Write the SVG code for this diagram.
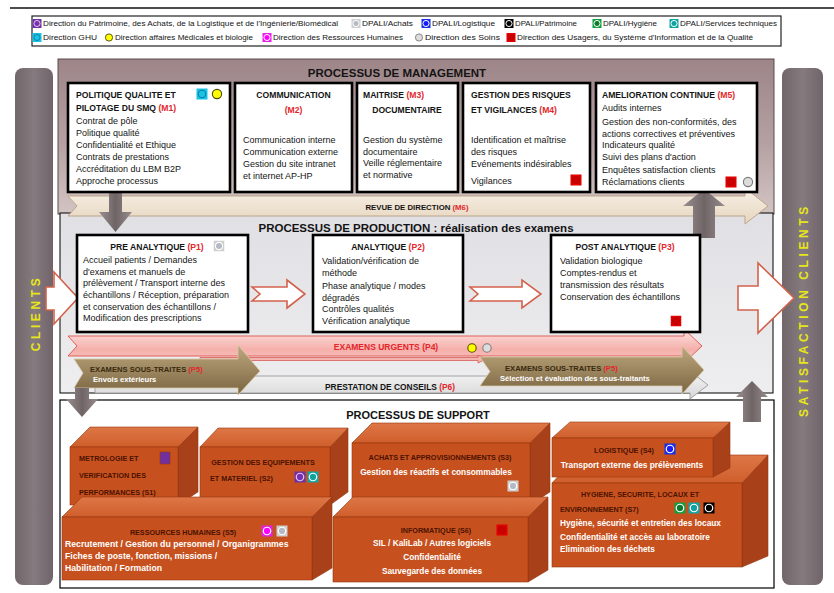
<svg xmlns="http://www.w3.org/2000/svg" width="834" height="593" viewBox="0 0 834 593">
<style>
text{font-family:'Liberation Sans',Arial,sans-serif;dominant-baseline:central;fill:#141414}
.lg{font-size:7.3px}
.tt{font-size:8.6px;font-weight:bold}
.tx{font-size:9px}
.sec{font-size:11.5px;font-weight:bold;text-anchor:middle}
.red{fill:#e3262a}
.mc{text-anchor:middle}
.box{fill:#fff;stroke:#000;stroke-width:2.6}
.side{font-size:12px;font-weight:bold;fill:#e6e619;letter-spacing:3.6px;text-anchor:middle}
.st{font-size:7.2px;font-weight:bold;fill:#4a1200}
.sw{font-size:8.3px;font-weight:bold;fill:#fff}
.lb{font-size:7.8px;font-weight:bold}
.front{fill:#c7511e}
.top{fill:url(#gTop)}
.right{fill:#a8411a}
.cube polygon,.cube rect{stroke:#96380f;stroke-width:0.6}
.hollow{fill:#fff;stroke:#d2624c;stroke-width:1.6}
.grey{fill:url(#gGrey)}
.bar{fill:url(#gBar)}
</style>
<defs>
<linearGradient id="gMan" x1="0" y1="0" x2="0" y2="1"><stop offset="0" stop-color="#9d8588"/><stop offset="0.55" stop-color="#b5a1a3"/><stop offset="1" stop-color="#d3c4c4"/></linearGradient>
<linearGradient id="gProd" x1="0" y1="0" x2="0" y2="1"><stop offset="0" stop-color="#e0e0e4"/><stop offset="1" stop-color="#eeeef0"/></linearGradient>
<linearGradient id="gBeige" x1="0" y1="0" x2="0" y2="1"><stop offset="0" stop-color="#f8f1e7"/><stop offset="1" stop-color="#e6d5be"/></linearGradient>
<linearGradient id="gPink" x1="0" y1="0" x2="0" y2="1"><stop offset="0" stop-color="#fde4e2"/><stop offset="0.6" stop-color="#f5b0ab"/><stop offset="1" stop-color="#f7c3bf"/></linearGradient>
<linearGradient id="gBrown" x1="0" y1="0" x2="0" y2="1"><stop offset="0" stop-color="#bea87e"/><stop offset="1" stop-color="#7a6542"/></linearGradient>
<linearGradient id="gGrey" x1="0" y1="0" x2="1" y2="0"><stop offset="0" stop-color="#9a8e90"/><stop offset="0.5" stop-color="#6f6466"/><stop offset="1" stop-color="#968b8d"/></linearGradient>
<linearGradient id="gTop" x1="0" y1="0" x2="0" y2="1"><stop offset="0" stop-color="#de7646"/><stop offset="1" stop-color="#cf5f2c"/></linearGradient>
<linearGradient id="gP6" x1="0" y1="0" x2="0" y2="1"><stop offset="0" stop-color="#f6f6f6"/><stop offset="1" stop-color="#d6d6d6"/></linearGradient>
<linearGradient id="gBar" x1="0" y1="0" x2="1" y2="0"><stop offset="0" stop-color="#72666a"/><stop offset="0.5" stop-color="#857a7e"/><stop offset="1" stop-color="#70646a"/></linearGradient>
<g id="iPurple"><rect x="-5" y="-5" width="10" height="10" fill="#7030a0"/><circle r="3.4" fill="#7a2fb0" stroke="#e0c8f0" stroke-width="1.1"/></g>
<g id="iCyan"><rect x="-5" y="-5" width="10" height="10" fill="#19c3e6"/><circle r="3.4" fill="#19c3e6" stroke="#0a7fa0" stroke-width="1"/></g>
<g id="iYellow"><circle r="4" fill="#ffff00" stroke="#4a4a00" stroke-width="1"/></g>
<g id="iMagenta"><rect x="-5" y="-5" width="10" height="10" fill="#e61ee6"/><circle r="3.4" fill="#ff00ff" stroke="#fff" stroke-width="1.1"/></g>
<g id="iAchats"><rect x="-5" y="-5" width="10" height="10" fill="#cfcfcf"/><circle r="3.4" fill="#b4b9c6" stroke="#fff" stroke-width="1.1"/></g>
<g id="iBlue"><rect x="-5" y="-5" width="10" height="10" fill="#1430e6"/><circle r="3.4" fill="#1a1aff" stroke="#fff" stroke-width="1.1"/></g>
<g id="iBlack"><rect x="-5" y="-5" width="10" height="10" fill="#000"/><circle r="3.4" fill="#000" stroke="#fff" stroke-width="1.1"/></g>
<g id="iGreen"><rect x="-5" y="-5" width="10" height="10" fill="#10a040"/><circle r="3.4" fill="#0a7a30" stroke="#fff" stroke-width="1.1"/></g>
<g id="iTeal"><rect x="-5" y="-5" width="10" height="10" fill="#10a4a4"/><circle r="3.4" fill="#10a0a0" stroke="#fff" stroke-width="1.1"/></g>
<g id="iSoins"><circle r="4" fill="#dcdcdc" stroke="#7a7a7a" stroke-width="1"/></g>
<g id="iRed"><rect x="-5" y="-5" width="10" height="10" fill="#e00000"/><circle r="3.4" fill="#cc0000" stroke="#b00000" stroke-width="0.6"/></g>
</defs>

<rect width="834" height="593" fill="#fff"/>
<line x1="10" y1="8" x2="834" y2="8" stroke="#111" stroke-width="1.5"/>

<g id="legend">
<rect x="32" y="16" width="749" height="30" fill="#fff" stroke="#222" stroke-width="1.2"/>
<use href="#iPurple" transform="translate(37,23.5) scale(0.9)"/><text class="lg" x="43" y="23.5" textLength="295" lengthAdjust="spacingAndGlyphs">Direction du Patrimoine, des Achats, de la Logistique et de l'Ingénierie/Biomédical</text>
<use href="#iAchats" transform="translate(356,23.5) scale(0.9)"/><text class="lg" x="362" y="23.5" textLength="51" lengthAdjust="spacingAndGlyphs">DPALI/Achats</text>
<use href="#iBlue" transform="translate(426,23.5) scale(0.9)"/><text class="lg" x="432" y="23.5" textLength="63" lengthAdjust="spacingAndGlyphs">DPALI/Logistique</text>
<use href="#iBlack" transform="translate(509,23.5) scale(0.9)"/><text class="lg" x="515" y="23.5" textLength="62" lengthAdjust="spacingAndGlyphs">DPALI/Patrimoine</text>
<use href="#iGreen" transform="translate(597,23.5) scale(0.9)"/><text class="lg" x="603" y="23.5" textLength="54" lengthAdjust="spacingAndGlyphs">DPALI/Hygiène</text>
<use href="#iTeal" transform="translate(674,23.5) scale(0.9)"/><text class="lg" x="680" y="23.5" textLength="97" lengthAdjust="spacingAndGlyphs">DPALI/Services techniques</text>
<use href="#iCyan" transform="translate(37,37.5) scale(0.9)"/><text class="lg" x="43" y="37.5" textLength="54" lengthAdjust="spacingAndGlyphs">Direction GHU</text>
<use href="#iYellow" transform="translate(109,37.5) scale(0.9)"/><text class="lg" x="115" y="37.5" textLength="138" lengthAdjust="spacingAndGlyphs">Direction affaires Médicales et biologie</text>
<use href="#iMagenta" transform="translate(267,37.5) scale(0.9)"/><text class="lg" x="273" y="37.5" textLength="130" lengthAdjust="spacingAndGlyphs">Direction des Ressources Humaines</text>
<use href="#iSoins" transform="translate(419,37.5) scale(0.9)"/><text class="lg" x="425" y="37.5" textLength="75" lengthAdjust="spacingAndGlyphs">Direction des Soins</text>
<use href="#iRed" transform="translate(511,37.5) scale(0.9)"/><text class="lg" x="517" y="37.5" textLength="236" lengthAdjust="spacingAndGlyphs">Direction des Usagers, du Système d'Information et de la Qualité</text>
</g>

<g id="clients">
<rect class="bar" x="15" y="68" width="38" height="517" rx="8"/>
<text class="side" transform="translate(36,313) rotate(-90)">CLIENTS</text>
</g>
<g id="satisfaction-clients">
<rect class="bar" x="782" y="68" width="41" height="517" rx="8"/>
<text class="side" transform="translate(804,310) rotate(-90)">SATISFACTION CLIENTS</text>
</g>

<g id="management">
<rect x="58" y="59" width="716" height="155" fill="url(#gMan)" stroke="#5a4a4c" stroke-width="1"/>
<text class="sec" x="397" y="73">PROCESSUS DE MANAGEMENT</text>
</g>
<g id="production">
<rect x="60" y="213" width="713" height="180" fill="url(#gProd)" stroke="#000" stroke-width="1"/>
<text class="sec" x="416" y="228">PROCESSUS DE PRODUCTION : réalisation des examens</text>
</g>
<g id="support">
<rect x="60" y="400" width="714" height="188" fill="#fff" stroke="#000" stroke-width="1.2"/>
<text class="sec" x="418" y="415" style="font-size:11px">PROCESSUS DE SUPPORT</text>
</g>

<g id="connectors">
<g id="m6-revue">
<path d="M68,196 L745,196 L745,188 L768,206 L745,224 L745,216 L68,216 L77,206 Z" fill="url(#gBeige)" stroke="#bda58b" stroke-width="1"/>
<text class="lb mc" x="417" y="207">REVUE DE DIRECTION <tspan class="red">(M6)</tspan></text>
</g>
<path class="hollow" d="M46,287 L54,287 L54,272 L78,298 L54,324 L54,310 L46,310 Z"/>
<path class="hollow" d="M252,287 L287,287 L287,280 L305,294 L287,308 L287,301 L252,301 L260,294 Z"/>
<path class="hollow" d="M470,287 L522,287 L522,280 L541,294 L522,308 L522,301 L470,301 L478,294 Z"/>
<path class="hollow" d="M738,286 L758,286 L758,263 L794,298 L758,333 L758,310 L738,310 Z"/>
<g id="p6-conseils">
<path d="M95,376 L690,376 L690,371 L708,385 L690,399 L690,393 L95,393 Z" fill="url(#gP6)" stroke="#9a9a9a" stroke-width="0.9"/>
<text class="lb mc" x="390" y="387" style="font-size:8.4px">PRESTATION DE CONSEILS  <tspan class="red">(P6)</tspan></text>
</g>
<g id="p4-urgents">
<path d="M68,336 L684,336 L684,329 L702,346 L684,363 L684,356 L68,356 L77,346 Z" fill="url(#gPink)" stroke="#e0605a" stroke-width="1"/>
<text class="lb mc red" x="386" y="347" style="font-size:8.5px">EXAMENS URGENTS   (P4)</text>
<use href="#iYellow" transform="translate(472,348) scale(1.05)"/>
<use href="#iSoins" transform="translate(487,348) scale(1.05)"/>
</g>
<path d="M200,357.5 L478,357.5 L478,355 L486,359 L478,363 L478,360.5 L200,360.5 Z" fill="#f3b4b0" stroke="#d85c55" stroke-width="0.8"/>
<g id="p5-left">
<path d="M74,359 L238,359 L238,345 L260,371 L238,395 L238,388 L74,388 L83,373 Z" fill="url(#gBrown)" stroke="#d9c9a6" stroke-width="0.8"/>
<text class="lb" x="90" y="369" style="font-size:7.6px;fill:#3a2a0e">EXAMENS SOUS-TRAITES <tspan class="red">(P5)</tspan></text>
<text class="lb" x="93" y="379.5" style="font-size:7.6px;fill:#fff">Envois extérieurs</text>
</g>
<g id="p5-right">
<path d="M480,357 L682,357 L682,346 L704,370 L682,394 L682,386 L480,386 L490,371.5 Z" fill="url(#gBrown)" stroke="#d9c9a6" stroke-width="0.8"/>
<text class="lb" x="505" y="368" style="font-size:7.6px;fill:#3a2a0e">EXAMENS SOUS-TRAITES <tspan class="red">(P5)</tspan></text>
<text class="lb" x="500" y="378.5" style="font-size:7.6px;fill:#fff">Sélection et évaluation des sous-traitants</text>
</g>
<path class="grey" d="M109,190 L122,190 L122,212 L132,212 L115.5,232 L99,212 L109,212 Z"/>
<path class="grey" d="M693,238 L715,238 L715,206 L725,206 L704,189 L683,206 L693,206 Z"/>
<path class="grey" d="M75,388 L89,388 L89,399 L98,399 L82,417 L66,399 L75,399 Z"/>
<path class="grey" d="M743,422 L761,422 L761,397 L768,397 L752,381 L736,397 L743,397 Z"/>
</g>

<g id="m1">
<rect class="box" x="68" y="83" width="162" height="109"/>
<text class="tt" x="76" y="95">POLITIQUE QUALITE ET</text>
<text class="tt" x="76" y="108">PILOTAGE DU SMQ  <tspan class="red">(M1)</tspan></text>
<text class="tx" x="76" y="120.5">Contrat de pôle</text>
<text class="tx" x="76" y="132.5">Politique qualité</text>
<text class="tx" x="76" y="144.5">Confidentialité et Ethique</text>
<text class="tx" x="76" y="156.5">Contrats de prestations</text>
<text class="tx" x="76" y="168.5">Accréditation du LBM B2P</text>
<text class="tx" x="76" y="180.5">Approche processus</text>
<use href="#iCyan" transform="translate(202,94) scale(1.1)"/>
<use href="#iYellow" transform="translate(217,94) scale(1.15)"/>
</g>
<g id="m2">
<rect class="box" x="235" y="83" width="117" height="109"/>
<text class="tt mc" x="293.5" y="95">COMMUNICATION</text>
<text class="tt mc red" x="293.5" y="110">(M2)</text>
<text class="tx" x="243" y="140">Communication interne</text>
<text class="tx" x="243" y="152">Communication externe</text>
<text class="tx" x="243" y="163.5">Gestion du site intranet</text>
<text class="tx" x="243" y="175.5">et internet AP-HP</text>
</g>
<g id="m3">
<rect class="box" x="357" y="83" width="101" height="109"/>
<text class="tt" x="363" y="95">MAITRISE   <tspan class="red">(M3)</tspan></text>
<text class="tt mc" x="407" y="110">DOCUMENTAIRE</text>
<text class="tx" x="363" y="140">Gestion du système</text>
<text class="tx" x="363" y="151.5">documentaire</text>
<text class="tx" x="363" y="163">Veille réglementaire</text>
<text class="tx" x="363" y="175">et normative</text>
</g>
<g id="m4">
<rect class="box" x="463" y="83" width="127" height="109"/>
<text class="tt" x="471" y="95">GESTION DES RISQUES</text>
<text class="tt" x="471" y="110">ET VIGILANCES  <tspan class="red">(M4)</tspan></text>
<text class="tx" x="471" y="140">Identification et maîtrise</text>
<text class="tx" x="471" y="152">des risques</text>
<text class="tx" x="471" y="163.5">Evénements indésirables</text>
<text class="tx" x="471" y="181">Vigilances</text>
<use href="#iRed" transform="translate(576,180) scale(1.1)"/>
</g>
<g id="m5">
<rect class="box" x="596" y="83" width="161" height="109"/>
<text class="tt" x="602" y="95">AMELIORATION CONTINUE  <tspan class="red">(M5)</tspan></text>
<text class="tx" x="602" y="108">Audits internes</text>
<text class="tx" x="602" y="121.5">Gestion des non-conformités, des</text>
<text class="tx" x="602" y="133.5">actions correctives et préventives</text>
<text class="tx" x="602" y="145">Indicateurs qualité</text>
<text class="tx" x="602" y="157">Suivi des plans d'action</text>
<text class="tx" x="602" y="170">Enquêtes satisfaction clients</text>
<text class="tx" x="602" y="182">Réclamations clients</text>
<use href="#iRed" transform="translate(731,182) scale(1.1)"/>
<use href="#iSoins" transform="translate(748,182) scale(1.15)"/>
</g>

<g id="p1">
<rect class="box" x="77" y="235" width="171" height="97"/>
<text class="tt mc" x="157" y="247">PRE ANALYTIQUE <tspan class="red">(P1)</tspan></text>
<use href="#iAchats" transform="translate(219,246) scale(1.05)"/>
<text class="tx" x="83" y="260">Accueil patients  / Demandes</text>
<text class="tx" x="83" y="271.5">d'examens et manuels de</text>
<text class="tx" x="83" y="283">prélèvement /  Transport interne des</text>
<text class="tx" x="83" y="295">échantillons  / Réception,  préparation</text>
<text class="tx" x="83" y="306.5">et conservation des  échantillons  /</text>
<text class="tx" x="83" y="318">Modification des prescriptions</text>
</g>
<g id="p2">
<rect class="box" x="313" y="235" width="150" height="97"/>
<text class="tt mc" x="388" y="247">ANALYTIQUE <tspan class="red">(P2)</tspan></text>
<text class="tx" x="322" y="261">Validation/vérification de</text>
<text class="tx" x="322" y="272.5">méthode</text>
<text class="tx" x="322" y="285.5">Phase analytique / modes</text>
<text class="tx" x="322" y="297.5">dégradés</text>
<text class="tx" x="322" y="309">Contrôles qualités</text>
<text class="tx" x="322" y="321">Vérification analytique</text>
</g>
<g id="p3">
<rect class="box" x="551" y="235" width="149" height="97"/>
<text class="tt mc" x="625" y="247">POST ANALYTIQUE <tspan class="red">(P3)</tspan></text>
<text class="tx" x="560" y="261">Validation biologique</text>
<text class="tx" x="560" y="273">Comptes-rendus  et</text>
<text class="tx" x="560" y="285">transmission des résultats</text>
<text class="tx" x="560" y="297">Conservation des échantillons</text>
<use href="#iRed" transform="translate(676,321) scale(1.05)"/>
</g>

<g id="s1" class="cube">
<polygon class="right" points="178,447 198,427 198,492 178,505"/>
<polygon class="top" points="70,447 90,427 198,427 178,447"/>
<rect class="front" x="70" y="447" width="108" height="58"/>
<text class="st" x="79" y="458">METROLOGIE ET</text>
<text class="st" x="79" y="475">VERIFICATION DES</text>
<text class="st" x="79" y="492">PERFORMANCES  (S1)</text>
<rect x="160" y="452" width="10" height="12" fill="#7030a0" stroke="none"/>
</g>
<g id="s2" class="cube">
<polygon class="right" points="330,447 348,428 348,492 330,505"/>
<polygon class="top" points="200,447 218,428 348,428 330,447"/>
<rect class="front" x="200" y="447" width="130" height="58"/>
<text class="st mc" x="263" y="462">GESTION DES EQUIPEMENTS</text>
<text class="st" x="210" y="478">ET MATERIEL  (S2)</text>
<use href="#iPurple" transform="translate(300,477) scale(1.1)"/>
<use href="#iTeal" transform="translate(313,477) scale(1.1)"/>
</g>
<g id="s5" class="cube">
<polygon class="right" points="312,517 332,497 332,568 312,580"/>
<polygon class="top" points="62,517 82,497 332,497 312,517"/>
<rect class="front" x="62" y="517" width="250" height="63"/>
<text class="st mc" x="183" y="532">RESSOURCES HUMAINES  (S5)</text>
<use href="#iMagenta" transform="translate(267,531) scale(1.1)"/>
<use href="#iAchats" transform="translate(282,531) scale(1.1)"/>
<text class="sw" x="65" y="544" style="font-size:8.7px">Recrutement / Gestion du personnel / Organigrammes</text>
<text class="sw" x="65" y="556" style="font-size:8.7px">Fiches  de poste, fonction, missions  /</text>
<text class="sw" x="65" y="568" style="font-size:8.7px">Habilitation / Formation</text>
</g>
<g id="s3" class="cube">
<polygon class="right" points="530,443 550,423 550,492 530,505"/>
<polygon class="top" points="352,443 372,423 550,423 530,443"/>
<rect class="front" x="352" y="443" width="178" height="62"/>
<text class="st mc" x="440" y="457">ACHATS ET APPROVISIONNEMENTS  (S3)</text>
<text class="sw mc" x="436" y="472">Gestion des réactifs et consommables</text>
<use href="#iAchats" transform="translate(513,486) scale(1.1)"/>
</g>
<g id="s6" class="cube">
<polygon class="right" points="528,517 548,497 548,570 528,582"/>
<polygon class="top" points="333,517 353,497 548,497 528,517"/>
<rect class="front" x="333" y="517" width="195" height="65"/>
<text class="st mc" x="436" y="530">INFORMATIQUE  (S6)</text>
<use href="#iRed" transform="translate(502,530) scale(1.1)"/>
<text class="sw mc" x="432" y="543">SIL / KaliLab / Autres logiciels</text>
<text class="sw mc" x="432" y="557">Confidentialité</text>
<text class="sw mc" x="432" y="571">Sauvegarde des données</text>
</g>
<g id="s7" class="cube">
<polygon class="right" points="742,483 768,455 768,556 742,567"/>
<polygon class="top" points="552,483 578,455 768,455 742,483"/>
<rect class="front" x="552" y="483" width="190" height="84"/>
<text class="st mc" x="640" y="494">HYGIENE, SECURITE, LOCAUX ET</text>
<text class="st" x="560" y="509">ENVIRONNEMENT  (S7)</text>
<use href="#iGreen" transform="translate(680,508) scale(1.1)"/>
<use href="#iTeal" transform="translate(694,508) scale(1.1)"/>
<use href="#iBlack" transform="translate(709,508) scale(1.1)"/>
<text class="sw" x="560" y="523">Hygiène, sécurité et entretien des locaux</text>
<text class="sw" x="560" y="537">Confidentialité et accès au laboratoire</text>
<text class="sw" x="560" y="549">Elimination des déchets</text>
</g>
<g id="s4" class="cube">
<polygon class="right" points="713,438 730,422 730,468 713,477"/>
<polygon class="top" points="552,438 570,422 730,422 713,438"/>
<rect class="front" x="552" y="438" width="161" height="39"/>
<text class="st mc" x="624" y="450">LOGISTIQUE  (S4)</text>
<use href="#iBlue" transform="translate(670,449) scale(1.1)"/>
<text class="sw mc" x="632" y="465">Transport externe des prélèvements</text>
</g>
</svg>
